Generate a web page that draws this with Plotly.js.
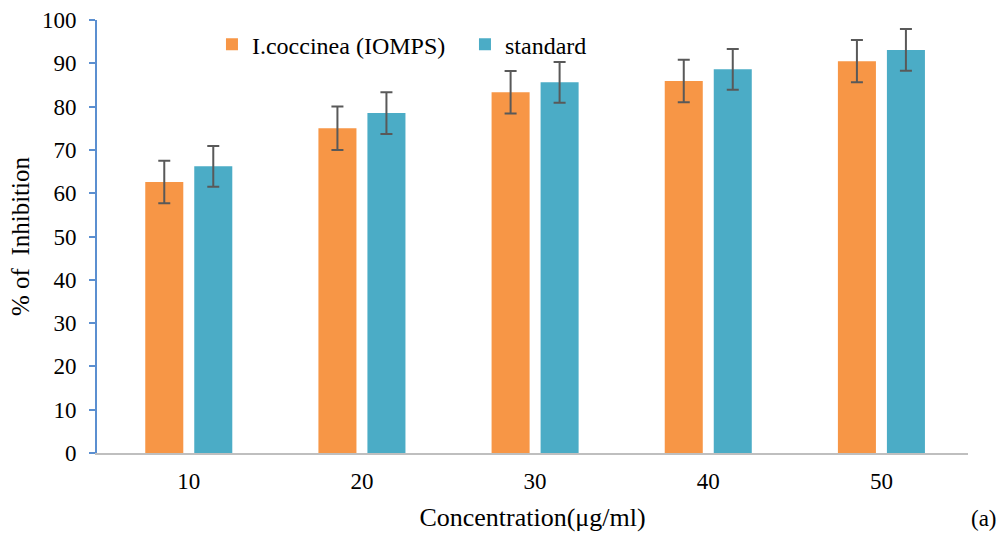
<!DOCTYPE html>
<html><head><meta charset="utf-8">
<script src="https://cdn.plot.ly/plotly-3.0.1.min.js"></script>
<style>body{margin:0;padding:0;background:#fff}#chart{width:999px;height:533px}</style>
</head><body><div id="chart"></div>
<script>
const categories = ['10','20','30','40','50'];
const iocValues = [62.6, 75.0, 83.3, 85.9, 90.5];
const iocErrors = [4.9, 5.0, 4.9, 4.9, 4.9];
const stdValues = [66.2, 78.5, 85.6, 88.6, 93.1];
const stdErrors = [4.7, 4.8, 4.7, 4.7, 4.8];
const seriesNames = ['I.coccinea (IOMPS)', 'standard'];

const errStyle = {type:'data', visible:true, color:'#595959', thickness:2, width:6};
const traces = [
  {type:'bar', name:seriesNames[0], x:categories, y:iocValues,
   marker:{color:'#F79646'}, error_y:Object.assign({array:iocErrors}, errStyle)},
  {type:'bar', name:seriesNames[1], x:categories, y:stdValues,
   marker:{color:'#4BACC6'}, error_y:Object.assign({array:stdErrors}, errStyle)}
];
const fam = 'Liberation Serif, Times New Roman, serif';
const layout = {
  width:999, height:533,
  margin:{l:97, r:31, t:20, b:80},
  paper_bgcolor:'#fff', plot_bgcolor:'#fff',
  font:{family:fam, color:'#000', size:23},
  barmode:'group', bargap:0.434, bargroupgap:0.224,
  showlegend:true,
  legend:{orientation:'h', x:0.132, y:0.995, xanchor:'left', yanchor:'top', font:{family:fam, size:24, color:'#000'},
    bgcolor:'rgba(0,0,0,0)', itemwidth:30, traceorder:'normal', entrywidth:208, entrywidthmode:'pixels'},
  xaxis:{type:'category', range:[-0.53, 4.5], showline:true, linecolor:'#BFBFBF', linewidth:2, ticks:'', showgrid:false,
    tickfont:{family:fam, size:23}, zeroline:false, ticklabelstandoff:6,
    title:{text:'Concentration(μg/ml)', font:{family:fam, size:26}, standoff:15}},
  yaxis:{range:[0,100], dtick:10, showline:true, linecolor:'#5B8FD0', linewidth:2, ticks:'outside', ticklen:6, tickcolor:'#5B8FD0', tickwidth:2,
    showgrid:false, zeroline:false, tickfont:{family:fam, size:23}, ticklabelstandoff:8,
    title:{text:'% of  Inhibition', font:{family:fam, size:25}, standoff:5}},
  annotations:[{text:'(a)', xref:'paper', yref:'paper', x:1.036, y:-0.184, xanchor:'right', yanchor:'bottom', showarrow:false, font:{family:fam, size:23}}]
};
Plotly.newPlot('chart', traces, layout, {displayModeBar:false});
</script></body></html>
